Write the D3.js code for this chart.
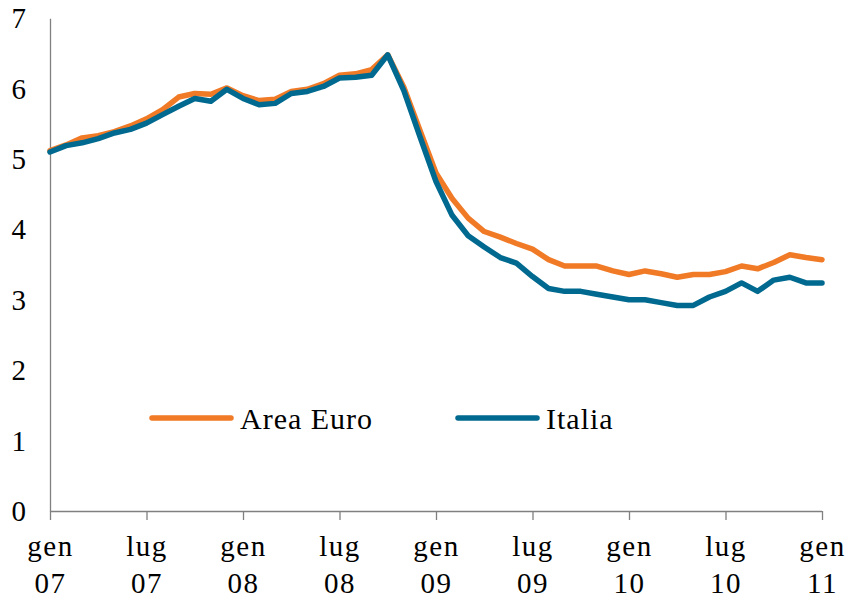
<!DOCTYPE html>
<html>
<head>
<meta charset="utf-8">
<script src="https://cdn.jsdelivr.net/npm/d3@7"></script>
<style>
  body { margin: 0; background: #fff; }
  svg { display: block; }
  text { font-family: "Liberation Serif", "Times New Roman", "DejaVu Serif Condensed", "DejaVu Serif", serif; font-stretch: condensed; fill: #000; }
</style>
</head>
<body>
<svg id="chart" width="850" height="599"></svg>
<script>
// ---- Data ----
const months = d3.range(49); // gen 07 .. gen 11
const tickIdx = [0, 6, 12, 18, 24, 30, 36, 42, 48];
const tickMonth = ["gen", "lug", "gen", "lug", "gen", "lug", "gen", "lug", "gen"];
const tickYear = ["07", "07", "08", "08", "09", "09", "10", "10", "11"];
const yTicks = [0, 1, 2, 3, 4, 5, 6, 7];

const areaEuro = [5.12, 5.20, 5.30, 5.33, 5.39, 5.47, 5.57, 5.70, 5.88, 5.93, 5.92, 6.01,
                  5.90, 5.83, 5.85, 5.96, 5.99, 6.07, 6.19, 6.21, 6.27, 6.48, 6.02, 5.41,
                  4.80, 4.44, 4.16, 3.97, 3.89, 3.80, 3.72, 3.57, 3.48, 3.48, 3.48, 3.41,
                  3.36, 3.41, 3.37, 3.32, 3.36, 3.36, 3.40, 3.48, 3.44, 3.53, 3.64, 3.60, 3.57];
const italia   = [5.10, 5.19, 5.23, 5.29, 5.37, 5.42, 5.51, 5.63, 5.75, 5.86, 5.82, 5.99,
                  5.86, 5.77, 5.79, 5.93, 5.96, 6.03, 6.15, 6.16, 6.19, 6.48, 5.97, 5.32,
                  4.68, 4.20, 3.91, 3.75, 3.60, 3.52, 3.33, 3.16, 3.12, 3.12, 3.08, 3.04,
                  3.00, 3.00, 2.96, 2.92, 2.92, 3.04, 3.12, 3.24, 3.12, 3.28, 3.32, 3.24, 3.24];

const seriesNames = ["Area Euro", "Italia"];
const seriesColors = ["#F07A26", "#00698F"];

// ---- Layout ----
const svg = d3.select("#chart");
const x = d3.scaleLinear().domain([0, 48]).range([50, 822]);
const y = d3.scaleLinear().domain([0, 7]).range([511, 18.2]);

// Axes
const axisColor = "#808080";
const gx = svg.append("g").attr("transform", "translate(0,511)")
  .call(d3.axisBottom(x).tickValues(tickIdx).tickSize(9).tickFormat(() => ""));
gx.attr("font-family", null);
gx.selectAll("path, line").attr("stroke", axisColor).attr("stroke-width", 1.3);
gx.select(".domain").attr("d", `M${x(0)},0.5H${x(48)}`);
gx.selectAll(".tick").each(function(d) {
  const t = d3.select(this).select("text");
  const k = tickIdx.indexOf(d);
  t.attr("y", 0).attr("dy", null).attr("font-size", 29).attr("letter-spacing", 1.5);
  t.append("tspan").attr("x", 0).attr("y", 45).text(tickMonth[k]);
  t.append("tspan").attr("x", 0).attr("y", 82).text(tickYear[k]);
});

const gy = svg.append("g").attr("transform", "translate(50,0)")
  .call(d3.axisLeft(y).tickValues(yTicks).tickSize(0).tickPadding(24).tickFormat(d3.format("d")));
gy.attr("font-family", null);
gy.selectAll(".domain").attr("stroke", axisColor).attr("stroke-width", 1.3);
gy.selectAll("text").attr("font-size", 29).attr("dy", "0.33em");

// Lines
const line = d3.line().x((d, i) => x(months[i])).y(d => y(d));
[areaEuro, italia].forEach((s, k) => {
  svg.append("path").datum(s)
    .attr("fill", "none")
    .attr("stroke", seriesColors[k])
    .attr("stroke-width", 5.5)
    .attr("stroke-linejoin", "round")
    .attr("stroke-linecap", "round")
    .attr("d", line);
});

// Legend
const legendX = [152, 458];
const legendY = 418;
seriesNames.forEach((name, k) => {
  svg.append("line")
    .attr("x1", legendX[k]).attr("x2", legendX[k] + 79)
    .attr("y1", legendY).attr("y2", legendY)
    .attr("stroke", seriesColors[k]).attr("stroke-width", 5.5)
    .attr("stroke-linecap", "round");
  svg.append("text")
    .attr("x", legendX[k] + 88).attr("y", legendY + 11)
    .attr("font-size", 30).attr("letter-spacing", 1)
    .text(name);
});
</script>
</body>
</html>
